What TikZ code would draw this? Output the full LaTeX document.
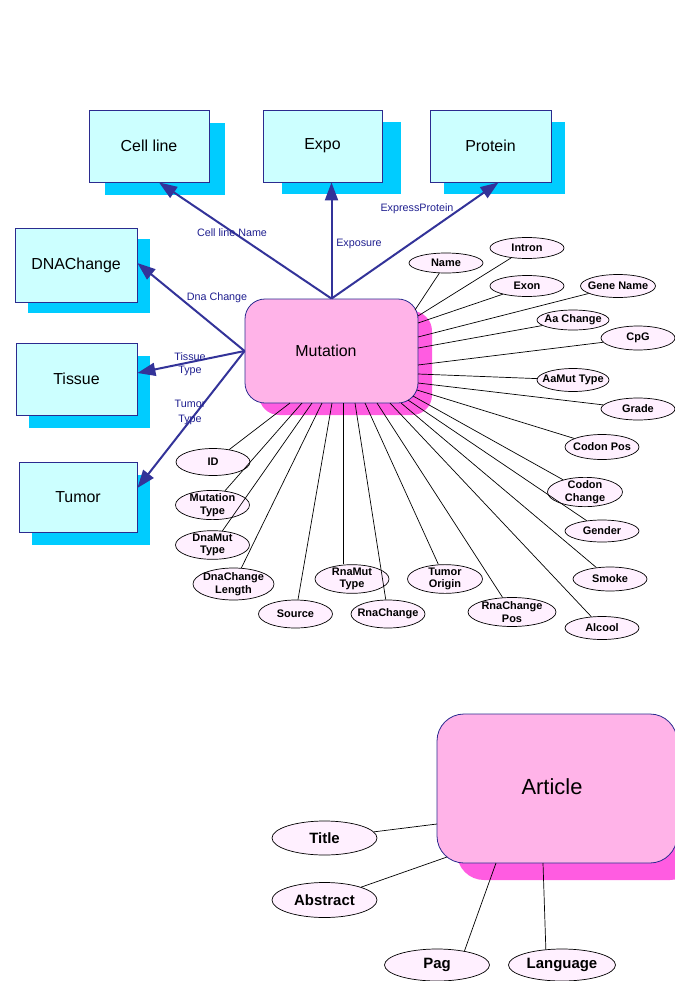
\documentclass[tikz,border=0pt]{standalone}
\usepackage{fontspec}
\setmainfont{Liberation Sans}
\usetikzlibrary{shapes.geometric,arrows.meta,shadows,calc}
\definecolor{boxfill}{HTML}{CCFFFF}
\definecolor{boxshade}{HTML}{00CCFF}
\definecolor{navy}{HTML}{2B2B8F}
\definecolor{arrowblue}{HTML}{333399}
\definecolor{labelblue}{HTML}{1F1F8F}
\definecolor{entfill}{HTML}{FFB3E8}
\definecolor{entshade}{HTML}{FF5CE1}
\definecolor{attfill}{HTML}{FFF0FF}

\begin{document}
\begin{tikzpicture}[x=1bp,y=-1bp,
  tbl/.style 2 args={draw=navy, line width=0.8bp, fill=boxfill,
    minimum width=120bp, minimum height=72bp, inner sep=0pt,
    font=\fontsize{16}{19}\selectfont,
    drop shadow={shadow xshift=#1, shadow yshift=#2, fill=boxshade, opacity=1}},
  ent/.style 2 args={draw=navy, line width=0.8bp, fill=entfill, inner sep=0pt,
    drop shadow={shadow xshift=#1, shadow yshift=#2, fill=entshade, opacity=1}},
  att/.style={ellipse, draw=black, line width=0.7bp, fill=attfill,
    inner xsep=-6bp, inner ysep=-1bp, minimum width=74bp, minimum height=22bp,
    align=center, font=\bfseries\fontsize{11}{12.5}\selectfont},
  att2/.style={att, minimum height=29bp},
  bigatt/.style={att, minimum width=105bp, minimum height=34bp,
    font=\bfseries\fontsize{15}{18}\selectfont},
  rel/.style={draw=arrowblue, line width=2bp, -{Triangle[length=18bp,width=13bp]}},
  link/.style={draw=black, line width=0.7bp},
  rlabel/.style={text=labelblue, font=\fontsize{10.8}{14}\selectfont, inner sep=0pt, align=center}
]
\useasboundingbox (0,0) rectangle (675,981);
\clip (0,0) rectangle (675,981);

% ---------- tables ----------
\node[tbl={16bp}{-13bp}] (cell) at (149,146) {Cell line};
\node[tbl={19bp}{-12bp}, minimum width=119bp] (expo) at (322.5,146) {Expo};
\node[tbl={14bp}{-12bp}, minimum width=121bp] (prot) at (490.5,146) {Protein};
\node[tbl={13bp}{-11bp}, minimum width=122bp, minimum height=74bp] (dna) at (76,265) {DNAChange};
\node[tbl={13bp}{-13bp}, minimum width=121bp] (tis) at (76.5,379) {Tissue};
\node[tbl={13bp}{-13bp}, minimum width=118bp, minimum height=70bp] (tum) at (78,497) {Tumor};

% ---------- Mutation entity ----------
\node[ent={14bp}{-12bp}, rounded corners=20bp, minimum width=173bp, minimum height=104bp,
      font=\fontsize{16}{19}\selectfont] (mut) at (331.5,351) {\hspace*{-11bp}Mutation};

% relations
\draw[rel] (mut.north) -- ($(cell.south)+(10,0)$);
\draw[rel] (mut.north) -- (mut.north |- expo.south);
\draw[rel] (mut.north) -- ($(prot.south)+(8,0)$);
\draw[rel] (mut.west) -- ($(dna.east)+(0,-2)$);
\draw[rel] (mut.west) -- ($(tis.east)+(0,-6)$);
\draw[rel] (mut.west) -- ($(tum.east)+(0,-9)$);

\node[rlabel] (lcell) at (232,233) {Cell line Name};
\node[rlabel] (lexpo) at (359,244) {Exposure};
\node[rlabel] (lprot) at (417,209) {ExpressProtein};
\node[rlabel] (ldna) at (217,298) {Dna Change};
\node[rlabel] (ltis1) at (190,357) {Tissue};
\node[rlabel] (ltis2) at (190,371) {Type};
\node[rlabel] (ltum1) at (190,404) {Tumor};
\node[rlabel] (ltum2) at (190,420) {Type};

% attributes of Mutation
\node[att, minimum height=20bp] (aName) at (446,263) {Name};
\node[att, minimum height=21bp] (aIntron) at (527,248) {Intron};
\node[att, minimum height=21bp] (aExon) at (527,286) {Exon};
\node[att, minimum width=75bp, minimum height=23bp] (aGene) at (618,286) {Gene Name};
\node[att, minimum width=72bp, minimum height=20bp] (aAa) at (573,320) {Aa Change};
\node[att, minimum height=24bp] (aCpG) at (638,338) {CpG};
\node[att, minimum width=72bp, minimum height=23bp] (aAaMut) at (573,380) {AaMut Type};
\node[att] (aGrade) at (638,409) {Grade};
\node[att, minimum height=25bp] (aCodonPos) at (602,447) {Codon Pos};
\node[att2, minimum width=75bp, minimum height=28bp] (aCodonCh) at (585,492) {Codon\\Change};
\node[att] (aGender) at (602,531) {Gender};
\node[att, minimum height=24bp] (aSmoke) at (610,579) {Smoke};
\node[att, minimum height=23bp] (aAlcool) at (602,628) {Alcool};
\node[att2, minimum width=88bp] (aRnaPos) at (512,612) {RnaChange\\Pos};
\node[att2, minimum width=75bp, minimum height=28bp] (aTumOr) at (445,579) {Tumor\\Origin};
\node[att, minimum height=28bp] (aRnaCh) at (388,614) {RnaChange};
\node[att, minimum height=28bp] (aSource) at (295.5,614) {Source};
\node[att2, minimum height=28bp] (aRnaMut) at (352,579) {RnaMut\\Type};
\node[att2, minimum width=81bp, minimum height=32bp] (aDnaLen) at (233.5,584) {DnaChange\\Length};
\node[att2, minimum height=28bp] (aDnaMut) at (212.5,545) {DnaMut\\Type};
\node[att2] (aMutType) at (212.5,505) {Mutation\\Type};
\node[att, minimum height=27bp] (aID) at (213,462) {ID};

% attachment points on the Mutation border
\coordinate (pName) at (415,310);
\coordinate (pIntron) at (418,316);
\coordinate (pExon) at (418,323);
\coordinate (pGene) at (418,337);
\coordinate (pAa) at (418,348);
\coordinate (pCpG) at (418,365);
\coordinate (pAaMut) at (418,374);
\coordinate (pGrade) at (418,383);
\coordinate (pCodonPos) at (417,390);
\coordinate (pCodonCh) at (413,396);
\coordinate (pGender) at (408,400);
\coordinate (pSmoke) at (401,403);
\coordinate (pAlcool) at (390,403);
\coordinate (pRnaPos) at (377,403);
\coordinate (pTumOr) at (365,403);
\coordinate (pRnaCh) at (355,403);
\coordinate (pRnaMut) at (343,403);
\coordinate (pSource) at (332,403);
\coordinate (pDnaLen) at (322,403);
\coordinate (pDnaMut) at (312,403);
\coordinate (pMutType) at (302,403);
\coordinate (pID) at (290,403);

\foreach \a/\p in {aName/pName, aIntron/pIntron, aExon/pExon, aGene/pGene, aAa/pAa,
                   aCpG/pCpG, aAaMut/pAaMut, aGrade/pGrade, aCodonPos/pCodonPos,
                   aCodonCh/pCodonCh, aGender/pGender, aSmoke/pSmoke, aAlcool/pAlcool,
                   aRnaPos/pRnaPos, aTumOr/pTumOr, aRnaCh/pRnaCh, aSource/pSource,
                   aDnaLen/pDnaLen, aDnaMut/pDnaMut, aMutType/pMutType, aID/pID}
  \draw[link] (\a) -- (\p);
\draw[link] (pRnaMut) -- (pRnaMut |- aRnaMut.north);

% ---------- Article entity ----------
\node[ent={20bp}{-17bp}, rounded corners=27bp, minimum width=240bp, minimum height=149bp,
      font=\fontsize{22}{26}\selectfont] (art) at (557,788.5) {\hspace*{-10bp}\raisebox{3bp}{Article}};

\node[bigatt] (aTitle) at (324.5,838) {Title};
\node[bigatt, minimum height=35bp] (aAbs) at (324.5,900) {Abstract};
\node[bigatt, minimum height=32bp] (aPag) at (437,965) {Pag};
\node[bigatt, minimum width=107bp, minimum height=32bp] (aLang) at (562,965) {Language};

\coordinate (qTitle) at (437,824);
\coordinate (qAbs) at (447,857);
\coordinate (qPag) at (496,863);
\coordinate (qLang) at (543,863);

\draw[link] (aTitle) -- (qTitle);
\draw[link] (aAbs) -- (qAbs);
\draw[link] (aPag.27) -- (qPag);
\draw[link] (aLang.136) -- (qLang);
\end{tikzpicture}
\end{document}
